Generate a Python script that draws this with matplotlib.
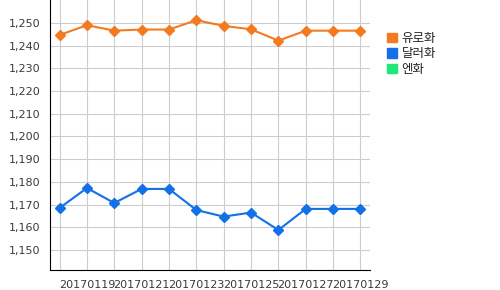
"""
Exchange rate line chart (EUR / USD / JPY)
"""
import matplotlib
matplotlib.use('Agg')
import matplotlib.pyplot as plt
from matplotlib.patches import Patch
from matplotlib.ticker import FuncFormatter

dates = ['20170118', '20170119', '20170120', '20170121', '20170122', '20170123',
         '20170124', '20170125', '20170126', '20170127', '20170128', '20170129']
euro = [1244.7, 1249.0, 1246.6, 1247.1, 1247.1, 1251.2,
        1248.7, 1247.2, 1242.2, 1246.6, 1246.6, 1246.6]
dollar = [1168.5, 1177.3, 1170.7, 1176.9, 1176.9, 1167.6,
          1164.7, 1166.5, 1158.8, 1168.1, 1168.1, 1168.1]
series_names = ['유로화', '달러화', '엔화']
colors = ['#f47a1f', '#1370e8', '#1fe87a']

plt.rcParams['font.family'] = ['Noto Sans CJK KR', 'DejaVu Sans']

fig = plt.figure(figsize=(5, 2.9), dpi=100)
ax = fig.add_axes([0.1, 0.069, 0.64, 0.931])

x = list(range(len(dates)))
ax.plot(x, euro, color=colors[0], lw=1.5, marker='D', ms=5.5, zorder=3)
ax.plot(x, dollar, color=colors[1], lw=1.5, marker='D', ms=5.5, zorder=3)

ax.set_xlim(-0.35, len(dates) - 1 + 0.35)
ax.set_ylim(1141.2, 1260.1)
ax.set_yticks(range(1150, 1251, 10))
ax.yaxis.set_major_formatter(FuncFormatter(lambda v, p: f'{int(v):,}'))
ax.set_xticks(x)
ax.set_xticklabels([d if i % 2 == 1 else '' for i, d in enumerate(dates)])

ax.grid(True, color='#cccccc', lw=0.8)
ax.set_axisbelow(True)
for s in ['top', 'right']:
    ax.spines[s].set_visible(False)
ax.spines['left'].set_color('black')
ax.spines['bottom'].set_color('black')
ax.tick_params(length=0, labelsize=8, colors='#3a3a3a', pad=7)
for lab in ax.get_xticklabels() + ax.get_yticklabels():
    lab.set_family('DejaVu Sans')

handles = [Patch(color=c) for c in colors]
fig.legend(handles, series_names, loc='upper left', bbox_to_anchor=(0.752, 0.93),
           frameon=False, fontsize=9, handlelength=0.75, handleheight=0.75,
           handletextpad=0.4, labelspacing=0.22, labelcolor='#222222')

fig.savefig('out.png', dpi=100)
